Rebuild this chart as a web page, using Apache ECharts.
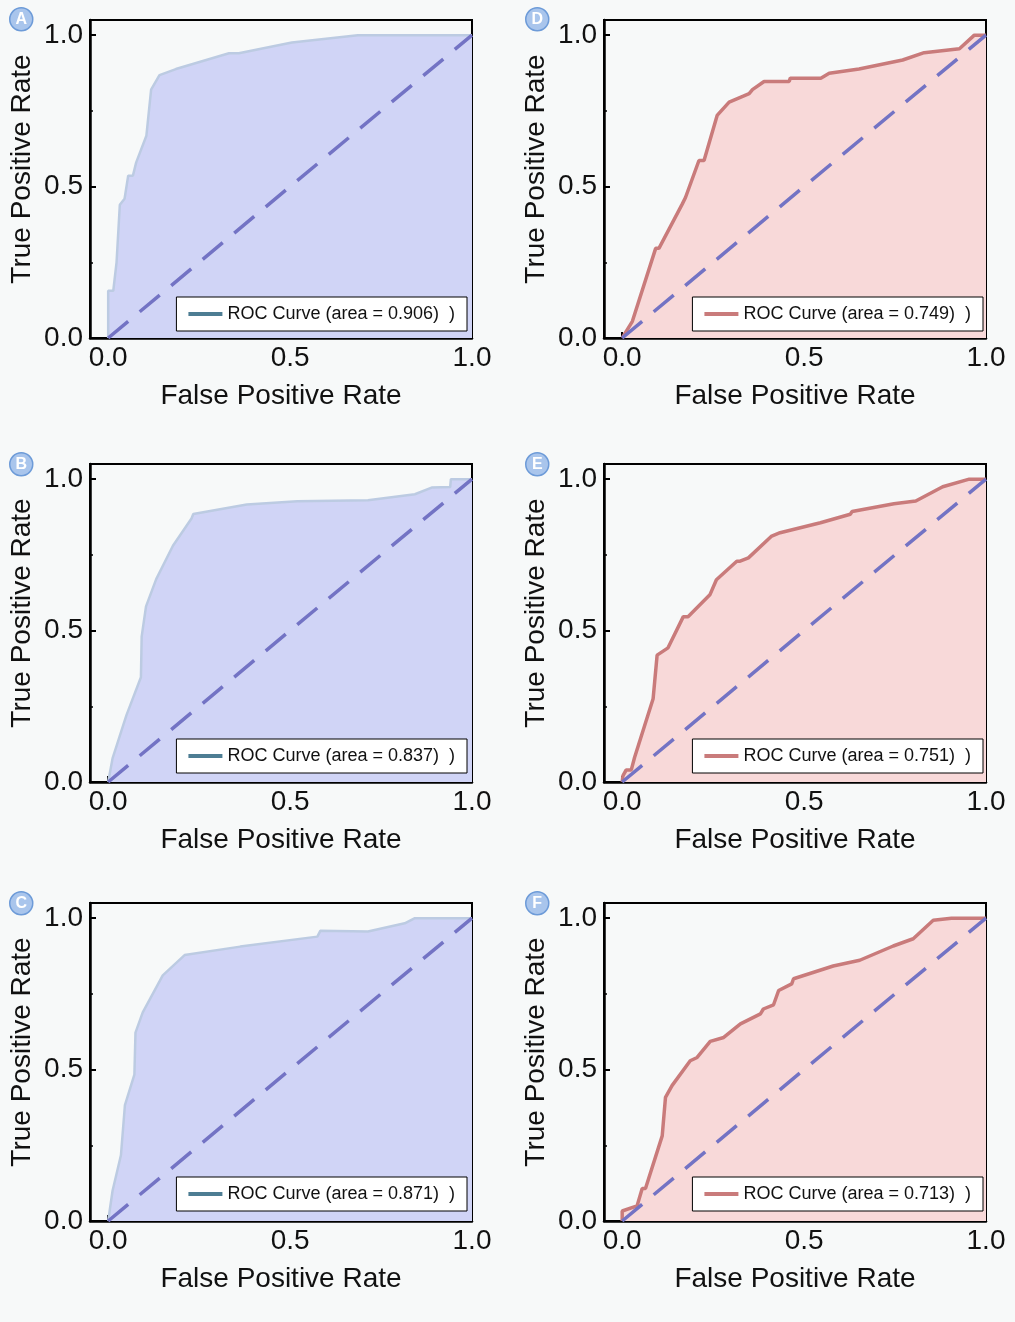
<!DOCTYPE html>
<html>
<head>
<meta charset="utf-8">
<script src="https://cdn.jsdelivr.net/npm/echarts@6/dist/echarts.min.js"></script>
<style>
  html, body { margin: 0; padding: 0; background: #f7f9f9; }
  #chart { width: 1015px; height: 1322px; }
</style>
</head>
<body>
<div id="chart"></div>
<script>
// ROC points [fpr, tpr]
const rocA = [[0,0],[0,0.156],[0.014,0.156],[0.023,0.25],[0.032,0.44],[0.045,0.46],[0.055,0.536],[0.068,0.536],[0.077,0.58],[0.105,0.668],[0.118,0.82],[0.141,0.868],[0.186,0.888],[0.332,0.94],[0.359,0.94],[0.505,0.976],[0.686,1.0],[1.0,1.0]];
const rocB = [[0,0],[0.012,0.078],[0.05,0.22],[0.09,0.346],[0.092,0.48],[0.104,0.58],[0.132,0.67],[0.178,0.78],[0.229,0.87],[0.234,0.885],[0.381,0.916],[0.52,0.927],[0.714,0.93],[0.843,0.95],[0.889,0.972],[0.94,0.974],[0.942,1.0],[1.0,1.0]];
const rocC = [[0,0],[0.012,0.1],[0.035,0.217],[0.046,0.383],[0.072,0.483],[0.075,0.622],[0.095,0.689],[0.15,0.811],[0.21,0.878],[0.363,0.906],[0.575,0.939],[0.583,0.958],[0.714,0.956],[0.815,0.983],[0.843,1.0],[1.0,1.0]];
const rocD = [[0,0],[0.028,0.055],[0.092,0.296],[0.101,0.296],[0.165,0.442],[0.174,0.464],[0.211,0.586],[0.225,0.586],[0.261,0.735],[0.294,0.779],[0.349,0.807],[0.358,0.82],[0.39,0.847],[0.459,0.847],[0.462,0.858],[0.546,0.858],[0.569,0.874],[0.651,0.888],[0.771,0.918],[0.83,0.942],[0.927,0.955],[0.968,1.0],[1.0,1.0]];
const rocE = [[0,0],[0.002,0.02],[0.011,0.04],[0.025,0.04],[0.034,0.081],[0.085,0.275],[0.096,0.419],[0.126,0.443],[0.168,0.546],[0.181,0.546],[0.241,0.618],[0.259,0.668],[0.315,0.729],[0.324,0.729],[0.347,0.74],[0.411,0.812],[0.434,0.823],[0.545,0.856],[0.627,0.884],[0.632,0.893],[0.747,0.919],[0.807,0.928],[0.881,0.975],[0.954,1.0],[1.0,1.0]];
const rocF = [[0,0],[0,0.033],[0.041,0.05],[0.055,0.107],[0.064,0.107],[0.11,0.281],[0.119,0.408],[0.137,0.447],[0.187,0.529],[0.206,0.54],[0.242,0.593],[0.279,0.606],[0.325,0.651],[0.38,0.684],[0.388,0.7],[0.416,0.714],[0.43,0.761],[0.466,0.783],[0.471,0.8],[0.58,0.842],[0.653,0.861],[0.745,0.908],[0.8,0.932],[0.855,0.993],[0.905,1.0],[1.0,1.0]];
const chance = [[0,0],[1,1]];

const panelLetters = ['A','B','C','D','E','F'];
const aucValues = ['0.906','0.837','0.871','0.749','0.751','0.713'];
const rocData = [rocA, rocB, rocC, rocD, rocE, rocF];
const majorTicks = [0, 0.5, 1.0];
const minorTicks = [0.25, 0.75];

const chart = echarts.init(document.getElementById('chart'));
const font = 'Liberation Sans, Arial, Helvetica, sans-serif';

// layout: left column A,B,C ; right column D,E,F
const colLeft = [90, 604];
const rowTop = [20, 464, 903];
const plotW = 382, plotH = 318;

const blueSet = { line: '#bccbe2', lineW: 2.5, fill: '#d0d4f6', legend: '#4d7d93' };
const redSet = { line: '#c97b7b', lineW: 3.5, fill: '#f8d9d9', legend: '#c97b7b' };

let grids = [], xAxes = [], yAxes = [], series = [], legends = [], graphics = [];

for (let i = 0; i < 6; i++) {
    const col = i < 3 ? 0 : 1;
    const row = i % 3;
    const st = col === 0 ? blueSet : redSet;
    const left = colLeft[col], top = rowTop[row];
    grids.push({
        left: left, top: top, width: plotW, height: plotH,
        show: true, borderColor: '#000', borderWidth: 2, backgroundColor: 'transparent',
        outerBoundsMode: 'none'
    });
    // main axes
    xAxes.push({
        gridIndex: i, type: 'value', min: -0.05, max: 1.0,
        axisLine: { onZero: false, lineStyle: { color: '#000', width: 2.5 } },
        axisTick: { inside: true, length: 6, customValues: majorTicks, lineStyle: { color: '#000', width: 2 } },
        axisLabel: { customValues: majorTicks, formatter: v => v.toFixed(1), fontSize: 28, color: '#111', fontFamily: font, margin: 6 },
        splitLine: { show: false },
        name: 'False Positive Rate', nameLocation: 'middle', nameGap: 44,
        nameTextStyle: { fontSize: 28, color: '#111', fontFamily: font }
    });
    yAxes.push({
        gridIndex: i, type: 'value', min: 0, max: 1.05,
        axisLine: { onZero: false, lineStyle: { color: '#000', width: 2.5 } },
        axisTick: { inside: true, length: 6, customValues: majorTicks, lineStyle: { color: '#000', width: 2 } },
        axisLabel: { customValues: majorTicks, formatter: v => v.toFixed(1), fontSize: 28, color: '#111', fontFamily: font, margin: 7 },
        splitLine: { show: false },
        name: 'True Positive Rate', nameLocation: 'middle', nameGap: 54,
        nameTextStyle: { fontSize: 28, color: '#111', fontFamily: font, padding: [0, 0, 0, 20] }
    });
    // minor tick axes
    xAxes.push({
        gridIndex: i, type: 'value', min: -0.05, max: 1.0, position: 'bottom',
        axisLine: { show: false, onZero: false },
        axisTick: { inside: true, length: 3, customValues: minorTicks, lineStyle: { color: '#000', width: 1.5 } },
        axisLabel: { show: false }, splitLine: { show: false }
    });
    yAxes.push({
        gridIndex: i, type: 'value', min: 0, max: 1.05, position: 'left',
        axisLine: { show: false, onZero: false },
        axisTick: { inside: true, length: 3, customValues: minorTicks, lineStyle: { color: '#000', width: 1.5 } },
        axisLabel: { show: false }, splitLine: { show: false }
    });

    const name = 'ROC Curve (area = ' + aucValues[i] + ')';
    series.push({
        name: name, type: 'line', xAxisIndex: 2 * i, yAxisIndex: 2 * i,
        data: rocData[i], showSymbol: false, symbol: 'none', z: 2,
        lineStyle: { color: st.line, width: st.lineW },
        itemStyle: { color: st.legend },
        areaStyle: { color: st.fill, opacity: 1, origin: 'start' }
    });
    series.push({
        name: 'chance' + i, type: 'line', xAxisIndex: 2 * i, yAxisIndex: 2 * i,
        data: chance, showSymbol: false, symbol: 'none', z: 3,
        lineStyle: { color: '#7373c4', width: 3.5, type: [26, 15] }
    });

    const legRight = col === 0 ? 1015 - 467 : 1015 - 983;
    const legBottom = 1322 - [331, 773, 1211][row];
    legends.push({
        data: [{ name: name, itemStyle: { color: st.legend } }],
        right: legRight, bottom: legBottom,
        backgroundColor: '#fff', borderColor: '#000', borderWidth: 1, borderRadius: 0,
        padding: [8, 12, 8, 12],
        icon: 'rect', itemWidth: 34, itemHeight: 4, itemGap: 10,
        formatter: n => n + '  )',
        textStyle: { fontSize: 18, color: '#111', fontFamily: font },
        selectedMode: false
    });

    graphics.push({
        type: 'group', left: [9, 525][col], top: [7, 452, 891][row],
        children: [
            { type: 'circle', shape: { cx: 12, cy: 12, r: 11.5 }, style: { fill: '#a9c5ec', stroke: '#6d9bd8', lineWidth: 1.5 } },
            { type: 'text', x: 12, y: 12.5, style: { text: panelLetters[i], fill: '#fff', font: 'bold 16px ' + font, align: 'center', verticalAlign: 'middle' } }
        ]
    });
}

chart.setOption({
    backgroundColor: '#f7f9f9',
    animation: false,
    grid: grids,
    xAxis: xAxes,
    yAxis: yAxes,
    legend: legends,
    series: series,
    graphic: graphics
});
</script>
</body>
</html>
